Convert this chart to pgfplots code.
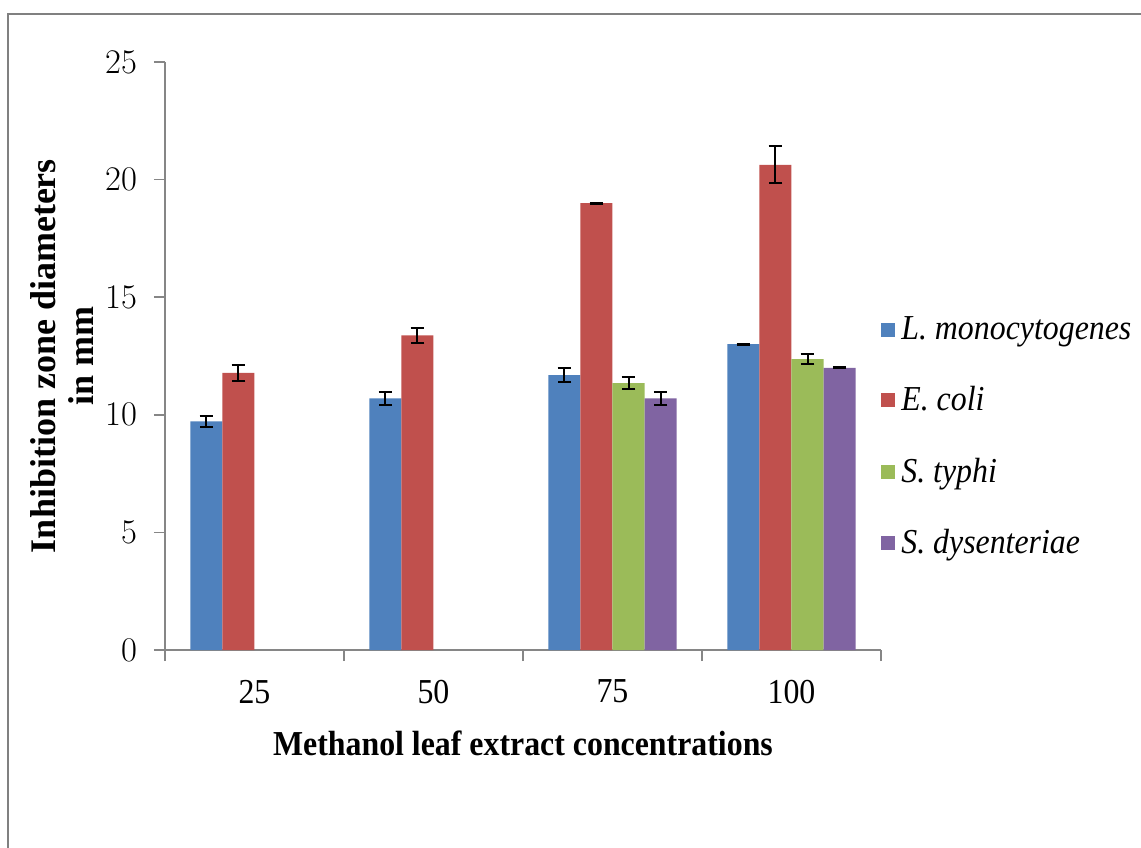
\documentclass[border=0pt]{standalone}
\usepackage{fontspec}
\setmainfont{Liberation Serif}
\newfontfamily\hfont{Liberation Serif}[FakeStretch=0.91]
\usepackage{pgfplots}
\usepackage{pgfplotstable}
\pgfplotsset{compat=1.18}
\definecolor{cblue}{HTML}{4F81BD}
\definecolor{cred}{HTML}{C0504D}
\definecolor{cgreen}{HTML}{9BBB59}
\definecolor{cpurple}{HTML}{8064A2}
\definecolor{axgray}{HTML}{868686}
\definecolor{framegray}{HTML}{808080}

\pgfplotstableread{
x L Lerr E Eerr T Terr D Derr
0 9.72 0.25 11.78 0.34 nan nan nan nan
1 10.70 0.27 13.38 0.32 nan nan nan nan
2 11.69 0.30 19.00 0.02 11.35 0.25 10.70 0.28
3 13.00 0.02 20.63 0.79 12.37 0.23 12.00 0.02
}\datatable

\begin{document}
\begin{tikzpicture}
\useasboundingbox (-82.5pt,-98.5pt) rectangle (488pt,325pt);
\clip (-82.5pt,-98.5pt) rectangle (488pt,325pt);
\draw[framegray, line width=1.3pt] (-78.5pt,-140pt) rectangle (530pt,318pt);
\begin{axis}[
  at={(0pt,0pt)}, anchor=south west,
  scale only axis, width=358pt, height=294pt,
  ymin=0, ymax=25, ytick={0,5,10,15,20,25},
  xmin=-0.5, xmax=3.5,
  xtick={-0.5,0.5,1.5,2.5,3.5},
  xticklabels={25,50,75,100},
  x tick label as interval,
  axis x line*=bottom, axis y line*=left,
  axis line style={draw=axgray, line width=0.75pt, -},
  tick align=outside, major tick length=5.5pt,
  tick style={draw=axgray, line width=0.75pt},
  ticklabel style={font=\hfont\fontsize{17.5}{17.5}\selectfont},
  yticklabel style={xshift=-5pt},
  xticklabel style={yshift=-6pt},
  ybar=0pt, bar width=0.179,
  xlabel={Methanol leaf extract concentrations},
  every axis x label/.style={at={(axis description cs:0.5,0)}, yshift=-46.5pt, anchor=center, font=\hfont\bfseries\fontsize{17.5}{17.5}\selectfont},
  ylabel={Inhibition zone diameters\\in mm},
  every axis y label/.style={at={(axis description cs:0,0.5)}, xshift=-51.5pt, rotate=90, anchor=center, align=center, font=\bfseries\fontsize{18}{19}\selectfont},
  legend style={draw=none, fill=none, at={(axis description cs:1,0.363)}, anchor=west,
    font=\hfont\itshape\fontsize{17.5}{17.5}\selectfont, row sep=18pt, inner xsep=0pt,
    nodes={inner xsep=3pt}},
  legend cell align=left,
  legend image code/.code={\fill[#1] (0pt,-3.5pt) rectangle (7pt,3.5pt);},
  error bars/error bar style={black, line width=1pt},
  error bars/error mark options={rotate=90, mark size=3.4pt, black, line width=1pt},
]
\addplot[fill=cblue, draw=none, error bars/.cd, y dir=both, y explicit] table[x=x, y=L, y error=Lerr] {\datatable};
\addplot[fill=cred, draw=none, error bars/.cd, y dir=both, y explicit] table[x=x, y=E, y error=Eerr] {\datatable};
\addplot[fill=cgreen, draw=none, error bars/.cd, y dir=both, y explicit] table[x=x, y=T, y error=Terr] {\datatable};
\addplot[fill=cpurple, draw=none, error bars/.cd, y dir=both, y explicit] table[x=x, y=D, y error=Derr] {\datatable};
\legend{L. monocytogenes, E. coli, S. typhi, S. dysenteriae}
\end{axis}
\end{tikzpicture}
\end{document}
